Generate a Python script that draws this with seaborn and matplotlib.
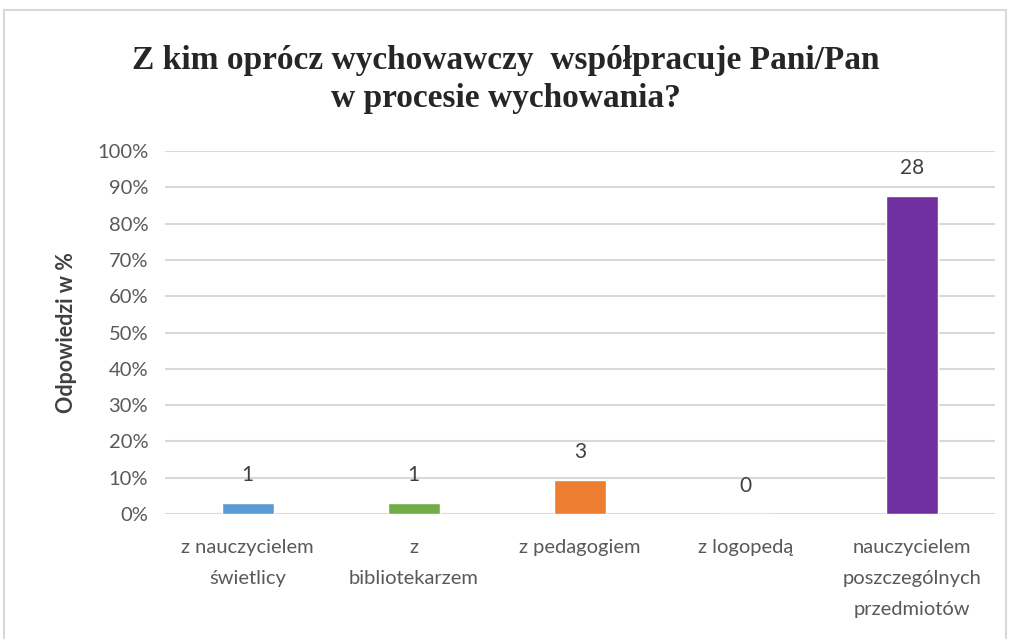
import matplotlib.pyplot as plt
import matplotlib.patches as mpatches
import pandas as pd
import seaborn as sns
from matplotlib.ticker import PercentFormatter

# Chart data
categories = [
    "z nauczycielem\nświetlicy",
    "z\nbibliotekarzem",
    "z pedagogiem",
    "z logopedą",
    "nauczycielem\nposzczególnych\nprzedmiotów",
]
counts = [1, 1, 3, 0, 28]
colors = ["#5b9bd5", "#70ad47", "#ed7d31", "#a5a5a5", "#7030a0"]

total = 32
percents = [c / total * 100 for c in counts]

df = pd.DataFrame({"kategoria": categories, "procent": percents, "liczba": counts})

sns.set_theme(style="white")
plt.rcParams["font.family"] = ["Lato", "DejaVu Sans"]

fig = plt.figure(figsize=(10.11, 6.39), dpi=100)
ax = fig.add_axes([0.163, 0.1956, 0.821, 0.568])

sns.barplot(
    data=df, x="kategoria", y="procent", hue="kategoria",
    palette=colors, saturation=1, width=0.31, legend=False, ax=ax, zorder=3,
)

ax.set_ylim(0, 100)
ax.set_yticks(range(0, 101, 10))
ax.yaxis.set_major_formatter(PercentFormatter(decimals=0))
ax.grid(axis="y", color="#d9d9d9", linewidth=1.5, zorder=0)
for s in ax.spines.values():
    s.set_visible(False)
ax.tick_params(axis="both", length=0, labelsize=14.5, colors="#595959", pad=12)
ax.tick_params(axis="x", pad=18)
for lbl in ax.get_xticklabels():
    lbl.set_linespacing(2.0)
ax.set_xlabel("")
ax.set_ylabel("Odpowiedzi w %", fontsize=15.5, color="#404040", fontweight="bold", labelpad=14)
ax.set_xlim(-0.5, len(categories) - 0.5)

# value labels above bars
for i, (p, n) in enumerate(zip(percents, counts)):
    ax.annotate(str(n), (i, p), xytext=(0, 13), textcoords="offset points",
                ha="center", va="bottom", fontsize=15, color="#404040")

fig.text(0.5, 0.876, "Z kim oprócz wychowawczy  współpracuje Pani/Pan\nw procesie wychowania?",
         ha="center", va="center", fontsize=24, fontweight="bold",
         family=["Liberation Serif", "DejaVu Serif"], color="#262626",
         linespacing=1.3)

# chart area border
fig.patches.append(mpatches.Rectangle((0.004, -0.01), 0.991, 0.995, transform=fig.transFigure,
                                      fill=False, edgecolor="#d9d9d9", linewidth=1.5))

fig.savefig("out.png", dpi=100)
